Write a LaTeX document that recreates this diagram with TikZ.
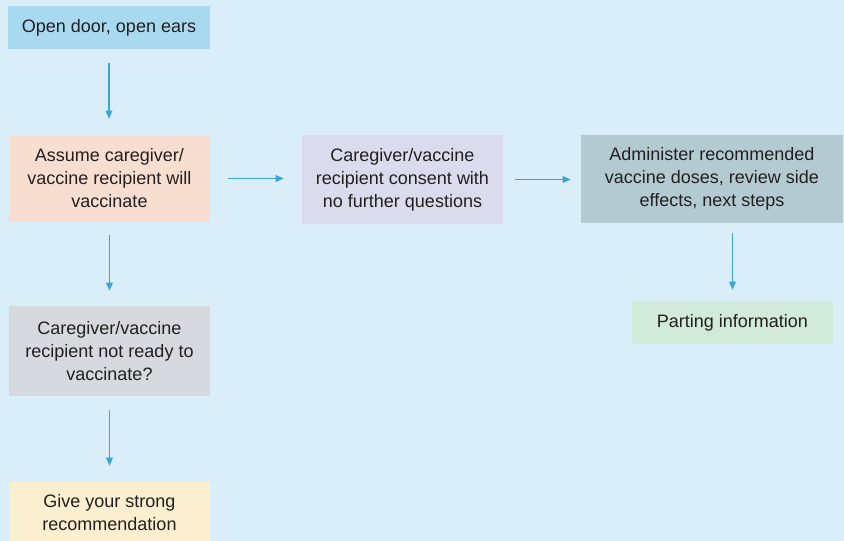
\documentclass[tikz,border=0pt]{standalone}
\usepackage{fontspec}
\setmainfont{Liberation Sans}
\usetikzlibrary{arrows.meta}
\definecolor{bgblue}{HTML}{D9EEF8}
\definecolor{cOpen}{HTML}{A9D9F1}
\definecolor{cAssume}{HTML}{F8DED0}
\definecolor{cConsent}{HTML}{DADCEE}
\definecolor{cAdmin}{HTML}{B3CAD2}
\definecolor{cPart}{HTML}{D2EAD9}
\definecolor{cNot}{HTML}{D6D9DD}
\definecolor{cGive}{HTML}{FBEFCF}
\definecolor{cArrow}{HTML}{3AA5D8}
\definecolor{cText}{HTML}{231F20}
\begin{document}
\begin{tikzpicture}[x=0.75pt,y=-0.75pt,
  box/.style={draw=none, inner sep=0pt, align=center, text=cText,
    font=\fontsize{13.5}{17.25}\selectfont, anchor=center},
  flow/.style={draw=cArrow, line width=0.8pt, -{Triangle[length=6pt,width=5pt]}}]
\useasboundingbox (0,0) rectangle (844,541);
\clip (0,0) rectangle (844,541);
\fill[bgblue] (0,0) rectangle (844,541);
\node[box, fill=cOpen, minimum width=202*0.75pt, minimum height=43*0.75pt] (open) at (109,27.5) {Open door, open ears};
\node[box, fill=cAssume, minimum width=201*0.75pt, minimum height=87*0.75pt] (assume) at (109.5,178.5) {Assume caregiver/\\vaccine recipient will\\vaccinate};
\node[box, fill=cConsent, minimum width=201*0.75pt, minimum height=89*0.75pt] (consent) at (402.5,179.5) {Caregiver/vaccine\\recipient consent with\\no further questions};
\node[box, fill=cAdmin, minimum width=262*0.75pt, minimum height=88*0.75pt] (admin) at (712,179) {Administer recommended\\vaccine doses, review side\\effects, next steps};
\node[box, fill=cPart, minimum width=201*0.75pt, minimum height=43*0.75pt] (part) at (732.5,322.5) {Parting information};
\node[box, fill=cNot, minimum width=201*0.75pt, minimum height=90*0.75pt] (notready) at (109.5,351) {Caregiver/vaccine\\recipient not ready to\\vaccinate?};
\node[box, fill=cGive, minimum width=201*0.75pt, minimum height=62*0.75pt] (give) at (109.5,513) {Give your strong\\recommendation};
\draw[flow, shorten <=10.5pt, shorten >=12pt] (open.south) -- (open.south |- assume.north);
\draw[flow, shorten <=13.5pt, shorten >=13.5pt] (assume.east) -- (assume.east -| consent.west);
\draw[flow, shorten <=9pt, shorten >=7.5pt] (consent.east) -- (consent.east -| admin.west);
\draw[flow, shorten <=7.5pt, shorten >=8.25pt] (admin.south -| part.north) -- (part.north);
\draw[flow, shorten <=9.75pt, shorten >=11.25pt] (assume.south) -- (assume.south |- notready.north);
\draw[flow, shorten <=10.5pt, shorten >=12pt] (notready.south) -- (notready.south |- give.north);
\end{tikzpicture}
\end{document}
